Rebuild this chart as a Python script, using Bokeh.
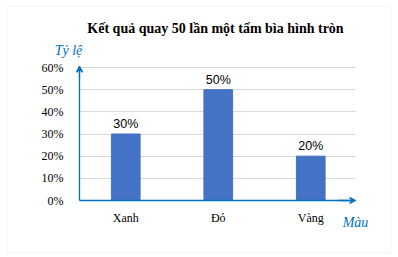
from bokeh.plotting import figure
from bokeh.models import (ColumnDataSource, Label, LabelSet, Arrow, VeeHead, Grid,
                          NumeralTickFormatter, BoxAnnotation, FixedTicker,
                          LinearAxis, Range1d)
from bokeh.core.properties import value
from bokeh.embed import file_html
from bokeh.resources import INLINE

categories = ["Xanh", "Đỏ", "Vàng"]
rates = [0.30, 0.50, 0.20]
rate_labels = ["30%", "50%", "20%"]
y_ticks = [0.0, 0.1, 0.2, 0.3, 0.4, 0.5, 0.6]
title_text = "Kết quả quay 50 lần một tấm bìa hình tròn"
y_name = "Tỷ lệ"
x_name = "Màu"

xpos = [i + 0.5 for i in range(len(categories))]
src = ColumnDataSource(dict(x=xpos, rate=rates, lab=rate_labels))

W, H = 398, 257
# pixel layout of the plotting area inside the canvas
AX_L, AX_R, AX_B, AX_T = 79.0, 356.5, 200.0, 67.0
px_x = (AX_R - AX_L) / len(categories)
px_y = (AX_B - AX_T) / y_ticks[-1]
xr = Range1d(-AX_L / px_x, (W - AX_L) / px_x)
yr = Range1d(-(H - AX_B) / px_y, AX_B / px_y)

p = figure(width=W, height=H, x_range=xr, y_range=yr,
           x_axis_location=None, y_axis_location=None,
           output_backend="svg", toolbar_location=None, min_border=0)
p.title = None
p.outline_line_color = None
p.background_fill_color = "white"
p.border_fill_color = "white"
p.xgrid.visible = False
p.ygrid.visible = False

blue = "#0070C0"

# grid lines
grid = Grid(dimension=1, ticker=FixedTicker(ticks=y_ticks[1:]),
            grid_line_color="#D9D9D9", grid_line_width=1)
try:
    grid.cross_bounds = (0, 2.98)
    p.add_layout(grid)
except Exception:
    p.segment(x0=[0] * (len(y_ticks) - 1), x1=[2.98] * (len(y_ticks) - 1),
              y0=y_ticks[1:], y1=y_ticks[1:], line_color="#D9D9D9", line_width=1)

p.vbar(x="x", top="rate", width=0.31, source=src, color="#4472C4")

p.add_layout(LabelSet(x="x", y="rate", text="lab", source=src,
                      text_align="center", text_baseline="bottom", y_offset=3,
                      text_font=value("Liberation Sans"), text_font_size="12.5px",
                      text_color="#000000"))

# axes placed at data zero
yaxis = LinearAxis(fixed_location=0, bounds=(0, y_ticks[-1]),
                   ticker=FixedTicker(ticks=y_ticks),
                   formatter=NumeralTickFormatter(format="0%"))
xaxis = LinearAxis(fixed_location=0, bounds=(0, 2.96),
                   ticker=FixedTicker(ticks=xpos),
                   major_label_overrides={x: c for x, c in zip(xpos, categories)})
for ax in (xaxis, yaxis):
    ax.axis_line_color = blue
    ax.axis_line_width = 1.3
    ax.major_tick_line_color = None
    ax.minor_tick_line_color = None
    ax.major_label_text_font = "Liberation Serif"
    ax.major_label_text_font_size = "12px"
    ax.major_label_text_color = "#000000"
yaxis.major_label_standoff = 10
xaxis.major_label_standoff = 4
p.add_layout(yaxis, "left")
p.add_layout(xaxis, "below")

p.add_layout(Arrow(x_start=0, y_start=0.55, x_end=0, y_end=0.605,
                   line_color=blue, line_width=1.3,
                   end=VeeHead(size=6, line_color=blue, line_width=1.3, fill_color=blue)))
p.add_layout(Arrow(x_start=2.8, y_start=0, x_end=2.985, y_end=0,
                   line_color=blue, line_width=1.3,
                   end=VeeHead(size=6, line_color=blue, line_width=1.3, fill_color=blue)))

# outer chart border (screen units from bottom-left)
p.add_layout(BoxAnnotation(left=6.5, right=390.5, bottom=H - 252.5, top=H - 5.5,
                           left_units="screen", right_units="screen",
                           bottom_units="screen", top_units="screen",
                           fill_alpha=0, line_color="#D9D9D9", line_width=1))

p.add_layout(Label(x=215, y=H - 28, x_units="screen", y_units="screen",
                   text=title_text, text_align="center", text_baseline="middle",
                   text_font="Liberation Serif", text_font_size="14px",
                   text_font_style="bold", text_color="#000000"))
p.add_layout(Label(x=68, y=H - 50, x_units="screen", y_units="screen",
                   text=y_name, text_align="center", text_baseline="middle",
                   text_font="Liberation Serif", text_font_size="14px",
                   text_font_style="italic", text_color=blue))
p.add_layout(Label(x=355, y=H - 222, x_units="screen", y_units="screen",
                   text=x_name, text_align="center", text_baseline="middle",
                   text_font="Liberation Serif", text_font_size="14px",
                   text_font_style="italic", text_color=blue))

open("out.html", "w").write(file_html(p, INLINE))
